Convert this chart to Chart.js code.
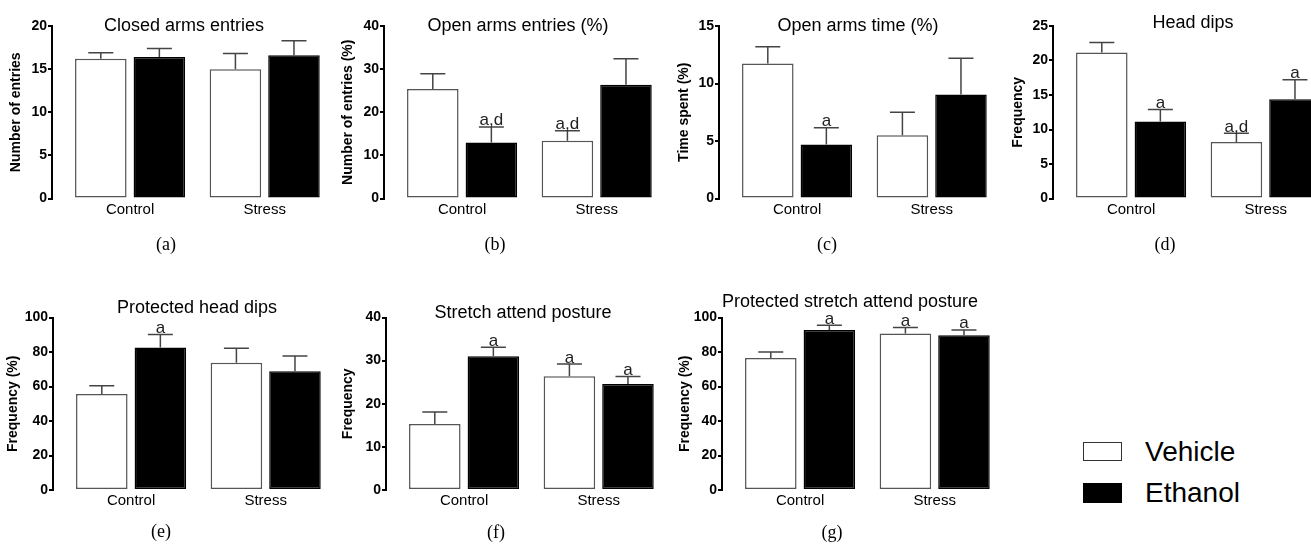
<!DOCTYPE html>
<html>
<head>
<meta charset="utf-8">
<script src="https://cdn.jsdelivr.net/npm/chart.js@4.4.1/dist/chart.umd.min.js"></script>
<style>
  html, body { margin: 0; padding: 0; background: #fff; overflow: hidden; }
  #page { position: relative; width: 1311px; height: 547px; overflow: hidden; }
  #page canvas { position: absolute; }
  .key { position: absolute; left: 1083px; width: 39px; height: 20px; box-sizing: border-box; }
  .key-label { position: absolute; left: 1145px; font: 28px "Liberation Sans", Arial, sans-serif; line-height: 28px; color: #000; }
</style>
</head>
<body>
<div id="page">
  <canvas id="closedArms" width="332" height="270" style="left:0px;top:0px"></canvas>
  <canvas id="openEntries" width="332" height="270" style="left:332px;top:0px"></canvas>
  <canvas id="openTime" width="332" height="270" style="left:667px;top:0px"></canvas>
  <canvas id="headDips" width="332" height="270" style="left:1001px;top:0px"></canvas>
  <canvas id="protHeadDips" width="332" height="267" style="left:1px;top:280px"></canvas>
  <canvas id="stretch" width="332" height="267" style="left:334px;top:280px"></canvas>
  <canvas id="protStretch" width="332" height="267" style="left:670px;top:280px"></canvas>

  <div class="key" style="top:442px;height:19px;border:1.5px solid #333;background:#fff"></div>
  <div class="key-label" style="top:438px">Vehicle</div>
  <div class="key" style="top:483px;background:#000"></div>
  <div class="key-label" style="top:479px">Ethanol</div>
</div>
<script>
const groups = ['Control', 'Stress'];

// (a) closed arms entries
const closedVehicle = [16.2, 15.0];
const closedVehicleSem = [0.7, 1.8];
const closedEthanol = [16.4, 16.6];
const closedEthanolSem = [1.0, 1.7];

// (b) open arms entries (%)
const openEntriesVehicle = [25.4, 13.4];
const openEntriesVehicleSem = [3.5, 2.3];
const openEntriesEthanol = [13.0, 26.4];
const openEntriesEthanolSem = [3.6, 6.0];
const openEntriesVehicleMarks = ['', 'a,d'];
const openEntriesEthanolMarks = ['a,d', ''];

// (c) open arms time (%)
const openTimeVehicle = [11.75, 5.5];
const openTimeVehicleSem = [1.45, 2.0];
const openTimeEthanol = [4.7, 9.05];
const openTimeEthanolSem = [1.45, 3.15];
const openTimeEthanolMarks = ['a', ''];

// (d) head dips
const headVehicle = [21.15, 8.2];
const headVehicleSem = [1.45, 1.25];
const headEthanol = [11.15, 14.4];
const headEthanolSem = [1.75, 2.8];
const headVehicleMarks = ['', 'a,d'];
const headEthanolMarks = ['a', 'a'];

// (e) protected head dips
const protHeadVehicle = [55.6, 73.8];
const protHeadVehicleSem = [4.9, 8.4];
const protHeadEthanol = [82.6, 68.8];
const protHeadEthanolSem = [7.5, 8.9];
const protHeadEthanolMarks = ['a', ''];

// (f) stretch attend posture
const stretchVehicle = [15.3, 26.4];
const stretchVehicleSem = [2.8, 2.8];
const stretchEthanol = [31.0, 24.6];
const stretchEthanolSem = [2.1, 1.7];
const stretchVehicleMarks = ['', 'a'];
const stretchEthanolMarks = ['a', 'a'];

// (g) protected stretch attend posture
const protStretchVehicle = [76.5, 90.7];
const protStretchVehicleSem = [3.5, 3.5];
const protStretchEthanol = [92.8, 89.7];
const protStretchEthanolSem = [2.7, 3.1];
const protStretchVehicleMarks = ['', 'a'];
const protStretchEthanolMarks = ['a', 'a'];

const SANS = '"Liberation Sans", Arial, sans-serif';
const SERIF = '"Liberation Serif", "Times New Roman", serif';
Chart.defaults.font.family = SANS;

const panels = [
  { id: 'closedArms', h: 270, padTop: 26, title: 'Closed arms entries', tx: 184, ty: 30.7, letter: '(a)', lx: 166, ly: 245,
    yTitle: 'Number of entries', yMax: 20, yStep: 5, yPad: 8,
    vehicle: closedVehicle, vehicleSem: closedVehicleSem, ethanol: closedEthanol, ethanolSem: closedEthanolSem },
  { id: 'openEntries', h: 270, padTop: 26, title: 'Open arms entries (%)', tx: 186, ty: 30.7, letter: '(b)', lx: 163, ly: 245,
    yTitle: 'Number of entries (%)', yMax: 40, yStep: 10, yPad: 8,
    vehicle: openEntriesVehicle, vehicleSem: openEntriesVehicleSem, ethanol: openEntriesEthanol, ethanolSem: openEntriesEthanolSem,
    vehicleMarks: openEntriesVehicleMarks, ethanolMarks: openEntriesEthanolMarks },
  { id: 'openTime', h: 270, padTop: 26, title: 'Open arms time (%)', tx: 191, ty: 30.7, letter: '(c)', lx: 160, ly: 245,
    yTitle: 'Time spent (%)', yMax: 15, yStep: 5, yPad: 9,
    vehicle: openTimeVehicle, vehicleSem: openTimeVehicleSem, ethanol: openTimeEthanol, ethanolSem: openTimeEthanolSem,
    ethanolMarks: openTimeEthanolMarks },
  { id: 'headDips', h: 270, padTop: 26, title: 'Head dips', tx: 192, ty: 27.7, letter: '(d)', lx: 164, ly: 245,
    yTitle: 'Frequency', yMax: 25, yStep: 5, yPad: 9,
    vehicle: headVehicle, vehicleSem: headVehicleSem, ethanol: headEthanol, ethanolSem: headEthanolSem,
    vehicleMarks: headVehicleMarks, ethanolMarks: headEthanolMarks },
  { id: 'protHeadDips', h: 267, padTop: 37.5, title: 'Protected head dips', tx: 196, ty: 32.7, letter: '(e)', lx: 160, ly: 252,
    yTitle: 'Frequency (%)', yMax: 100, yStep: 20, yPad: 4,
    vehicle: protHeadVehicle, vehicleSem: protHeadVehicleSem, ethanol: protHeadEthanol, ethanolSem: protHeadEthanolSem,
    ethanolMarks: protHeadEthanolMarks },
  { id: 'stretch', h: 267, padTop: 37.5, title: 'Stretch attend posture', tx: 189, ty: 37.7, letter: '(f)', lx: 162, ly: 253,
    yTitle: 'Frequency', yMax: 40, yStep: 10, yPad: 6,
    vehicle: stretchVehicle, vehicleSem: stretchVehicleSem, ethanol: stretchEthanol, ethanolSem: stretchEthanolSem,
    vehicleMarks: stretchVehicleMarks, ethanolMarks: stretchEthanolMarks },
  { id: 'protStretch', h: 267, padTop: 37.5, title: 'Protected stretch attend posture', tx: 180, ty: 26.7, letter: '(g)', lx: 162, ly: 253,
    yTitle: 'Frequency (%)', yMax: 100, yStep: 20, yPad: 7,
    vehicle: protStretchVehicle, vehicleSem: protStretchVehicleSem, ethanol: protStretchEthanol, ethanolSem: protStretchEthanolSem,
    vehicleMarks: protStretchVehicleMarks, ethanolMarks: protStretchEthanolMarks }
];

// upper error bar (mean + SEM) with cap, plus significance letters above the cap
const errorBars = {
  id: 'errorBars',
  afterDatasetsDraw(chart) {
    const ctx = chart.ctx;
    const y = chart.scales.y;
    chart.data.datasets.forEach((ds, di) => {
      chart.getDatasetMeta(di).data.forEach((bar, i) => {
        const top = y.getPixelForValue(ds.data[i].y + ds.sem[i]);
        ctx.save();
        ctx.strokeStyle = '#444';
        ctx.lineWidth = 1.5;
        ctx.beginPath();
        ctx.moveTo(bar.x, bar.y);
        ctx.lineTo(bar.x, top);
        ctx.moveTo(bar.x - 12.5, top);
        ctx.lineTo(bar.x + 12.5, top);
        ctx.stroke();
        const mark = ds.marks && ds.marks[i];
        if (mark) {
          ctx.fillStyle = '#222';
          ctx.font = '17px ' + SANS;
          ctx.textAlign = 'center';
          ctx.textBaseline = 'alphabetic';
          ctx.fillText(mark, bar.x, top - 1.5);
        }
        ctx.restore();
      });
    });
  }
};

const panelText = {
  id: 'panelText',
  afterDraw(chart, args, o) {
    const ctx = chart.ctx;
    ctx.save();
    ctx.fillStyle = '#000';
    ctx.textAlign = 'center';
    ctx.textBaseline = 'alphabetic';
    ctx.font = '18px ' + SANS;
    ctx.fillText(o.title, o.tx, o.ty);
    ctx.font = '18px ' + SERIF;
    ctx.textBaseline = 'middle';
    ctx.fillText(o.letter, o.lx, o.ly);
    ctx.restore();
  }
};

const toPoints = vals => vals.map((v, i) => ({ x: i, y: v }));

panels.forEach(p => {
  new Chart(document.getElementById(p.id), {
    type: 'bar',
    data: {
      datasets: [
        { label: 'Vehicle', data: toPoints(p.vehicle), sem: p.vehicleSem, marks: p.vehicleMarks,
          backgroundColor: '#fff', borderColor: '#555', borderWidth: 1.5, borderSkipped: false },
        { label: 'Ethanol', data: toPoints(p.ethanol), sem: p.ethanolSem, marks: p.ethanolMarks,
          backgroundColor: '#000', borderColor: '#000', borderWidth: 1.5, borderSkipped: false }
      ]
    },
    options: {
      responsive: false,
      animation: false,
      devicePixelRatio: 1,
      categoryPercentage: 0.87,
      barPercentage: 0.88,
      layout: { padding: { top: p.padTop, left: 0, right: 0, bottom: 0 } },
      plugins: {
        legend: { display: false },
        tooltip: { enabled: false },
        panelText: { title: p.title, tx: p.tx, ty: p.ty, letter: p.letter, lx: p.lx, ly: p.ly }
      },
      scales: {
        x: {
          type: 'linear', min: -0.58, max: 1.5, bounds: 'data', offset: false,
          grid: { display: false, drawTicks: false, offset: false },
          border: { display: false },
          afterBuildTicks: s => { s.ticks = groups.map((g, i) => ({ value: i })); },
          ticks: { callback: v => groups[v], color: '#000', font: { size: 15 }, padding: 2, maxRotation: 0, autoSkip: false },
          afterFit: s => { s.height = p.h - p.padTop - 172.5; }
        },
        y: {
          min: 0, max: p.yMax,
          ticks: { stepSize: p.yStep, color: '#000', font: { size: 14, weight: 'bold' }, padding: 1 },
          grid: { display: true, drawOnChartArea: false, drawTicks: true, tickLength: 4, color: '#000', lineWidth: 2 },
          border: { display: true, color: '#000', width: 2 },
          title: { display: true, text: p.yTitle, color: '#000', font: { size: 14, weight: 'bold' }, padding: { top: p.yPad, bottom: 0 } },
          afterFit: s => { s.width = 52; }
        }
      }
    },
    plugins: [errorBars, panelText]
  });
});
</script>
</body>
</html>
